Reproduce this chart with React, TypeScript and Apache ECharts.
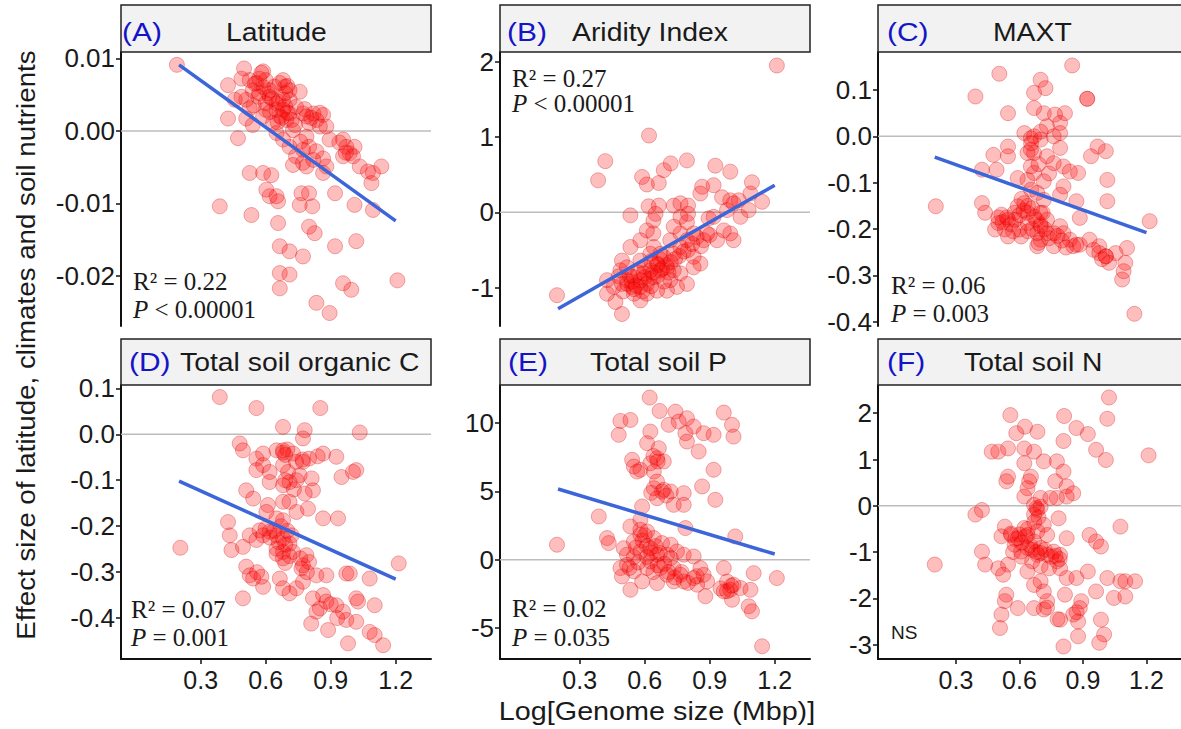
import React, { useEffect, useRef } from "react";
import * as echarts from "echarts";

// ---------------- data ----------------
const xTicks = [0.3, 0.6, 0.9, 1.2];
const xMin = -0.068;
const xMax = 1.363;

const latitudePts: number[][] = [
  [0.19, 0.0091], [0.426, 0.0063], [0.5, 0.0086], [0.488, 0.0072], [0.526, 0.007], [0.588, 0.0082], [0.54, 0.0056],
  [0.57, 0.0052], [0.51, 0.0043], [0.488, 0.0047], [0.665, 0.0066], [0.68, 0.007], [0.69, 0.0061], [0.757, 0.0054],
  [0.618, 0.0047], [0.65, 0.0038], [0.68, 0.0029], [0.71, 0.0043], [0.6, 0.0029], [0.665, 0.002], [0.695, 0.0015],
  [0.634, 0.0011], [0.588, 0.002], [0.426, 0.0017], [0.51, 0.0017], [0.54, 0.0008], [0.788, 0.002], [0.82, 0.0024],
  [0.865, 0.0022], [0.834, 0.0015], [0.8, 0.0011], [0.772, 0.0024], [0.85, 0.0006], [0.88, 0.0006], [0.74, 0.0033],
  [0.726, 0.0001], [0.472, -0.001], [0.65, -0.0003], [0.68, -0.0012], [0.71, -0.0022], [0.788, -0.0008],
  [0.772, -0.0026], [0.8, -0.0022], [0.834, -0.0028], [0.74, -0.0035], [0.772, -0.0044], [0.726, -0.0047],
  [0.788, -0.0049], [0.865, -0.0038], [0.88, -0.0049], [0.865, -0.0058], [0.895, -0.0012], [0.957, -0.0012],
  [0.972, -0.0022], [1.01, -0.0022], [0.988, -0.0031], [1.003, -0.0035], [0.957, -0.0035], [1.034, -0.0049],
  [1.072, -0.0056], [1.095, -0.0058], [1.134, -0.0049], [1.088, -0.0072], [0.526, -0.0058], [0.588, -0.0058],
  [0.626, -0.0061], [0.603, -0.0081], [0.618, -0.009], [0.657, -0.0097], [0.65, -0.009], [0.388, -0.0104],
  [0.534, -0.0116], [0.765, -0.0086], [0.8, -0.0086], [0.757, -0.0102], [0.815, -0.0104], [0.92, -0.0086],
  [1.01, -0.0102], [1.095, -0.0109], [0.657, -0.0127], [0.8, -0.0132], [0.826, -0.0141], [0.665, -0.0159],
  [0.71, -0.0166], [0.772, -0.0173], [0.92, -0.0159], [1.018, -0.0152], [0.665, -0.0196], [0.71, -0.0198],
  [0.665, -0.0217], [0.957, -0.021], [0.995, -0.0219], [1.208, -0.0206], [0.834, -0.0237], [0.895, -0.0251],
  [0.557, 0.0066], [0.618, 0.0056], [0.71, 0.0056], [0.65, 0.0029], [0.71, 0.0024], [0.68, 0.0043],
  [0.457, 0.0043], [0.526, 0.0031],
  [0.55, 0.0065], [0.57, 0.0072], [0.59, 0.006], [0.61, 0.0052], [0.63, 0.0044], [0.66, 0.004], [0.69, 0.0034],
  [0.7, 0.0025], [0.675, 0.0018], [0.655, 0.0012], [0.62, 0.0026], [0.6, 0.0038], [0.565, 0.0047], [0.545, 0.0035],
  [0.72, 0.0015], [0.735, 0.0008], [0.7, 0.0062], [0.69, 0.0052], [0.64, 0.0061], [0.6, 0.007], [0.58, 0.008],
  [0.78, 0.003], [0.81, 0.0018], [0.85, 0.0025], [0.76, -0.0015], [0.82, -0.004], [0.97, -0.003], [0.94, -0.0016],
];
const latitudeFit = [[0.2, 0.0091], [1.2, -0.0124]];
const latitudeTicks = [-0.02, -0.01, 0, 0.01];

const aridityPts: number[][] = [
  [0.195, -1.1], [1.21, 1.95], [0.385, 0.425], [0.418, 0.68], [0.62, 1.02], [0.588, 0.47], [0.61, 0.37],
  [0.665, 0.39], [0.688, 0.56], [0.72, 0.65], [0.795, 0.69], [0.534, -0.04], [0.618, 0.08], [0.665, 0.09],
  [0.734, 0.09], [0.765, 0.12], [0.8, 0.09], [0.765, -0.06], [0.795, -0.13], [0.865, 0.34], [0.918, 0.36],
  [0.926, 0.62], [0.995, 0.54], [0.957, 0.2], [0.995, 0.16], [1.034, 0.16], [1.095, 0.4], [1.088, 0.25],
  [1.142, 0.14], [1.08, 0.03], [0.98, 0.03], [1.01, 0.12], [0.895, -0.08], [0.965, -0.24], [0.995, -0.28],
  [1.01, -0.37], [0.934, -0.37], [0.888, -0.28], [0.872, -0.37], [0.84, -0.33], [0.795, -0.37], [0.64, -0.11],
  [0.61, -0.24], [0.58, -0.37], [0.534, -0.46], [0.64, -0.28], [0.734, -0.19], [0.718, -0.37], [0.765, -0.46],
  [0.826, -0.59], [0.8, -0.5], [0.734, -0.55], [0.688, -0.59], [0.657, -0.68], [0.626, -0.77], [0.595, -0.81],
  [0.55, -0.86], [0.518, -0.9], [0.488, -0.77], [0.495, -0.95], [0.457, -0.99], [0.426, -0.9], [0.426, -1.08],
  [0.465, -1.19], [0.495, -1.35], [0.542, -0.99], [0.58, -0.99], [0.61, -0.95], [0.642, -0.86], [0.672, -0.77],
  [0.703, -0.73], [0.718, -0.9], [0.703, -1.04], [0.749, -0.99], [0.795, -0.95], [0.765, -0.81], [0.826, -0.73],
  [0.857, -0.68], [0.672, -0.55], [0.626, -0.55], [0.58, -0.64], [0.518, -0.73], [0.61, -1.08], [0.657, -1.04],
  [0.58, -1.17], [0.55, -1.08], [0.734, -0.77], [0.642, -0.46], [0.826, -0.28], [0.765, -0.28], [0.65, -0.02],
  [0.8, -0.02], [0.918, -0.06], [1.042, -0.06], [0.857, 0.25], [0.495, -0.64],
  [0.52, -0.95], [0.54, -0.92], [0.56, -0.97], [0.58, -0.9], [0.6, -0.86], [0.62, -0.88], [0.64, -0.8],
  [0.66, -0.84], [0.68, -0.75], [0.7, -0.7], [0.72, -0.66], [0.74, -0.62], [0.76, -0.58], [0.66, -0.7],
  [0.63, -0.65], [0.6, -0.72], [0.57, -0.8], [0.55, -1.02], [0.59, -1.05], [0.63, -0.98], [0.69, -0.92],
  [0.71, -0.8], [0.78, -0.52], [0.82, -0.42], [0.86, -0.45], [0.9, -0.3], [0.67, -0.62], [0.53, -0.84],
  [0.5, -1.05], [0.48, -0.85],
];
const aridityFit = [[0.2, -1.28], [1.2, 0.36]];
const aridityTicks = [-1, 0, 1, 2];

const maxtPts: number[][] = [
  [0.205, -0.151], [0.392, 0.086], [0.505, 0.135], [0.546, 0.05], [0.849, 0.153], [0.669, 0.094], [0.7, 0.122],
  [0.723, 0.104], [0.92, 0.081], [0.92, 0.081], [0.669, 0.061], [0.715, 0.05], [0.768, 0.047], [0.815, 0.05],
  [0.792, 0.029], [0.73, 0.022], [0.623, 0.007], [0.654, -0.004], [0.669, 0.0], [0.7, -0.007], [0.762, 0.0],
  [0.792, 0.007], [0.546, -0.022], [0.477, -0.04], [0.546, -0.043], [0.423, -0.072], [0.492, -0.072],
  [0.654, -0.029], [0.669, -0.036], [0.73, -0.043], [0.792, -0.025], [0.762, -0.058], [0.808, -0.065],
  [0.838, -0.076], [0.654, -0.065], [0.669, -0.079], [0.715, -0.097], [0.638, -0.094], [0.592, -0.09],
  [0.877, -0.079], [0.938, -0.043], [0.969, -0.022], [1.008, -0.032], [1.015, -0.094], [1.015, -0.14],
  [0.808, -0.108], [0.792, -0.126], [0.869, -0.14], [0.885, -0.176], [0.423, -0.144], [0.438, -0.165],
  [0.515, -0.169], [0.5, -0.187], [0.546, -0.18], [0.531, -0.201], [0.577, -0.165], [0.592, -0.151],
  [0.623, -0.144], [0.638, -0.165], [0.669, -0.173], [0.7, -0.165], [0.73, -0.18], [0.715, -0.137],
  [0.684, -0.122], [0.638, -0.187], [0.684, -0.209], [0.7, -0.223], [0.684, -0.237], [0.73, -0.209],
  [0.546, -0.216], [0.608, -0.216], [0.762, -0.237], [0.792, -0.194], [0.808, -0.209], [0.838, -0.223],
  [0.854, -0.237], [0.885, -0.234], [0.931, -0.223], [0.977, -0.237], [0.977, -0.252], [1.008, -0.259],
  [1.023, -0.273], [1.054, -0.252], [1.108, -0.241], [1.1, -0.273], [1.092, -0.291], [1.085, -0.309],
  [1.143, -0.383], [1.215, -0.183], [0.485, -0.201], [0.6, -0.201], [0.7, -0.194], [0.762, -0.209],
  [0.869, -0.234], [1.008, -0.259], [0.638, -0.036],
  [0.5, -0.175], [0.52, -0.185], [0.54, -0.175], [0.56, -0.19], [0.58, -0.18], [0.6, -0.17], [0.62, -0.16],
  [0.64, -0.15], [0.66, -0.155], [0.68, -0.18], [0.7, -0.19], [0.72, -0.2], [0.66, -0.2], [0.64, -0.205],
  [0.57, -0.205], [0.74, -0.22], [0.78, -0.215], [0.8, -0.225], [0.82, -0.24], [0.95, -0.245], [0.99, -0.265],
  [0.69, -0.23], [0.71, -0.165], [0.61, -0.135], [0.655, -0.115], [0.69, -0.06], [0.74, -0.08], [0.7, 0.01],
  [0.655, -0.015],
];
const maxtFit = [[0.2, -0.045], [1.2, -0.208]];
const maxtTicks = [-0.4, -0.3, -0.2, -0.1, 0, 0.1];

const soilCPts: number[][] = [
  [0.206, -0.247], [0.388, 0.081], [0.557, 0.057], [0.852, 0.057], [0.68, 0.016], [0.78, 0.009], [0.772, -0.009],
  [1.034, 0.004], [0.48, -0.02], [0.495, -0.035], [0.557, -0.053], [0.588, -0.042], [0.65, -0.035], [0.68, -0.035],
  [0.726, -0.042], [0.8, -0.053], [0.772, -0.06], [0.865, -0.042], [0.926, -0.049], [0.557, -0.078],
  [0.588, -0.067], [0.618, -0.082], [0.68, -0.067], [0.703, -0.082], [0.757, -0.089], [0.812, -0.096],
  [0.95, -0.093], [1.003, -0.082], [1.018, -0.078], [0.618, -0.104], [0.68, -0.111], [0.71, -0.104],
  [0.742, -0.1], [0.818, -0.122], [0.78, -0.129], [0.51, -0.122], [0.542, -0.14], [0.61, -0.154], [0.68, -0.147],
  [0.71, -0.147], [0.742, -0.169], [0.795, -0.162], [0.865, -0.183], [0.934, -0.183], [0.603, -0.169],
  [0.65, -0.183], [0.68, -0.187], [0.426, -0.191], [0.434, -0.22], [0.442, -0.252], [0.495, -0.245],
  [0.526, -0.22], [0.572, -0.209], [0.557, -0.23], [0.588, -0.22], [0.618, -0.212], [0.65, -0.22], [0.68, -0.227],
  [0.71, -0.238], [0.65, -0.249], [0.68, -0.256], [0.68, -0.27], [0.726, -0.256], [0.788, -0.263], [0.8, -0.278],
  [0.765, -0.292], [0.772, -0.285], [0.834, -0.307], [0.88, -0.307], [0.972, -0.303], [0.988, -0.303],
  [1.08, -0.314], [1.214, -0.281], [0.51, -0.288], [0.526, -0.307], [0.542, -0.314], [0.588, -0.332],
  [0.495, -0.357], [0.665, -0.314], [0.68, -0.335], [0.71, -0.346], [0.742, -0.335], [0.818, -0.357],
  [0.865, -0.35], [0.85, -0.379], [0.88, -0.364], [0.926, -0.372], [1.018, -0.357], [1.026, -0.364],
  [1.103, -0.372], [0.957, -0.386], [0.972, -0.404], [1.018, -0.408], [1.08, -0.43], [1.103, -0.437],
  [0.81, -0.412], [0.888, -0.426], [0.98, -0.455], [1.142, -0.459], [0.834, -0.386], [0.772, -0.321],
  [0.6, -0.205], [0.62, -0.225], [0.64, -0.21], [0.66, -0.235], [0.67, -0.2], [0.69, -0.24], [0.7, -0.21],
  [0.72, -0.22], [0.65, -0.26], [0.69, -0.28], [0.71, -0.265], [0.68, -0.04], [0.69, -0.045], [0.7, -0.033],
  [0.74, -0.06], [0.77, -0.055], [0.84, -0.048], [0.76, -0.27], [0.79, -0.3], [0.58, -0.31], [0.56, -0.3],
  [0.9, -0.37], [0.93, -0.4], [0.73, -0.12], [0.69, -0.1],
];
const soilCFit = [[0.2, -0.102], [1.2, -0.315]];
const soilCTicks = [-0.4, -0.3, -0.2, -0.1, 0, 0.1];

const soilPPts: number[][] = [
  [0.195, 1.1], [0.388, 3.17], [0.623, 11.88], [0.488, 10.17], [0.534, 10.24], [0.48, 9.15], [0.669, 10.9],
  [0.742, 10.85], [0.711, 9.88], [0.757, 10.12], [0.795, 10.37], [0.826, 9.76], [0.788, 9.27], [0.872, 9.27],
  [0.918, 9.15], [0.965, 10.78], [1.003, 9.88], [1.01, 9.02], [0.795, 8.66], [0.849, 7.93], [0.626, 9.39],
  [0.611, 8.54], [0.665, 8.17], [0.542, 7.32], [0.55, 6.83], [0.58, 6.59], [0.565, 6.46], [0.626, 7.07],
  [0.657, 7.44], [0.688, 7.2], [0.642, 6.46], [0.657, 5.73], [0.642, 5.24], [0.688, 5.12], [0.72, 5.0],
  [0.657, 4.51], [0.734, 4.02], [0.78, 4.88], [0.78, 4.02], [0.865, 5.37], [0.918, 6.59], [0.926, 4.39],
  [0.588, 3.9], [0.58, 2.93], [0.534, 2.44], [0.788, 2.32], [1.018, 1.71], [0.426, 1.59], [0.434, 1.22],
  [0.503, 0.85], [0.55, 1.34], [0.58, 1.83], [0.611, 2.07], [0.642, 1.59], [0.68, 1.22], [0.72, 1.1],
  [0.518, 0.37], [0.58, 0.61], [0.626, 0.85], [0.657, 0.37], [0.703, 0.37], [0.749, 0.61], [0.78, 0.37],
  [0.826, 0.24], [0.488, -0.61], [0.518, -0.37], [0.55, -0.85], [0.495, -1.22], [0.588, -1.59], [0.534, -2.2],
  [0.657, -1.71], [0.672, -0.61], [0.703, -1.1], [0.734, -0.61], [0.765, -1.1], [0.78, -1.59], [0.826, -1.34],
  [0.872, -1.1], [0.888, -1.59], [0.842, -1.83], [0.88, -2.68], [0.965, -0.61], [0.98, -1.59], [0.995, -2.2],
  [1.01, -1.83], [1.042, -2.07], [0.965, -2.32], [1.003, -2.93], [1.103, -0.98], [1.088, -2.2], [1.08, -3.41],
  [1.095, -3.78], [1.21, -1.34], [1.142, -6.34], [0.72, 0.12], [0.626, -0.12], [0.734, -1.59], [0.857, -0.61],
  [0.611, -0.61],
  [0.56, 0.9], [0.59, 1.4], [0.61, 1.0], [0.63, 0.5], [0.65, 1.0], [0.67, 0.5], [0.69, -0.3], [0.66, -0.4],
  [0.64, -0.9], [0.61, 0.2], [0.57, -0.2], [0.53, -0.6], [0.55, 0.2], [0.71, -0.9], [0.74, -1.3], [0.77, -0.9],
  [0.8, -1.7], [0.84, -1.2], [0.95, -2.1], [0.98, -2.3], [1.0, -1.9], [0.66, 7.2], [0.64, 7.6], [0.68, 5.0],
  [0.7, 4.7], [0.63, 4.9], [0.6, 1.8], [0.58, 2.2],
];
const soilPFit = [[0.2, 5.18], [1.2, 0.42]];
const soilPTicks = [-5, 0, 5, 10];

const soilNPts: number[][] = [
  [0.2, -1.27], [0.392, -0.19], [0.423, -0.09], [1.023, 2.34], [1.015, 1.88], [1.21, 1.09], [0.557, 1.96],
  [0.626, 1.71], [0.585, 1.57], [0.685, 1.6], [0.811, 1.94], [0.869, 1.68], [0.923, 1.55], [0.808, 1.4],
  [0.962, 1.21], [1.008, 0.99], [0.469, 1.17], [0.5, 1.17], [0.546, 1.24], [0.623, 1.24], [0.669, 1.17],
  [0.623, 0.92], [0.715, 0.96], [0.777, 0.96], [0.808, 0.74], [0.546, 0.63], [0.538, 0.53], [0.654, 0.63],
  [0.646, 0.53], [0.769, 0.53], [0.638, 0.38], [0.823, 0.42], [0.854, 0.27], [0.623, 0.2], [0.7, 0.17],
  [0.746, 0.17], [0.777, 0.17], [0.823, 0.2], [0.669, 0.02], [0.685, -0.09], [0.669, -0.19], [0.785, -0.27],
  [1.077, -0.45], [0.531, -0.45], [0.515, -0.66], [0.561, -0.63], [0.592, -0.7], [0.577, -0.84], [0.623, -0.48],
  [0.638, -0.63], [0.685, -0.55], [0.715, -0.41], [0.731, -0.63], [0.669, -0.77], [0.7, -0.91], [0.685, -1.06],
  [0.731, -1.06], [0.762, -0.99], [0.792, -1.06], [0.777, -1.2], [0.823, -0.7], [0.931, -0.63], [0.962, -0.77],
  [0.985, -0.88], [0.423, -0.99], [0.438, -1.27], [0.5, -1.35], [0.546, -1.27], [0.523, -1.49], [0.638, -1.42],
  [0.669, -1.71], [0.7, -1.63], [0.715, -1.85], [0.792, -1.35], [0.823, -1.56], [0.869, -1.56], [0.923, -1.42],
  [0.962, -1.85], [1.015, -1.56], [1.077, -1.63], [1.1, -1.63], [1.146, -1.63], [1.046, -1.99], [1.1, -1.96],
  [0.538, -1.92], [0.531, -2.06], [0.592, -2.21], [0.515, -2.35], [0.508, -2.64], [0.669, -2.21], [0.715, -2.24],
  [0.731, -2.06], [0.815, -1.92], [0.792, -2.46], [0.854, -2.35], [0.885, -2.21], [0.892, -2.06], [0.877, -2.5],
  [0.877, -2.82], [0.808, -3.04], [0.985, -2.46], [1.0, -2.78], [0.977, -2.96], [0.638, -0.91], [0.608, -0.99],
  [0.56, -0.6], [0.58, -0.72], [0.6, -0.62], [0.61, -0.8], [0.63, -0.66], [0.65, -0.85], [0.66, -0.95],
  [0.68, -1.0], [0.7, -1.02], [0.72, -0.95], [0.75, -1.1], [0.77, -1.08], [0.79, -1.15], [0.67, -0.35],
  [0.69, -0.25], [0.68, -0.05], [0.7, -0.02], [0.66, -1.2], [0.7, -1.3], [0.64, -0.5], [0.57, -1.0],
  [0.61, -1.1], [0.74, -1.35], [0.78, -2.45], [0.73, -2.2], [0.87, -2.3],
];
const soilNTicks = [-3, -2, -1, 0, 1, 2];

// ---------------- layout / style ----------------
const SANS = '"Liberation Sans", Arial, sans-serif';
const SERIF = '"Liberation Serif", "Times New Roman", serif';
const PLOT_W = 310;
const PLOT_H = 274;

const panels = [
  { letter: "(A)", title: "Latitude", pts: latitudePts, fit: latitudeFit, ticks: latitudeTicks, dec: 2,
    yMin: -0.02689, yMax: 0.01087, left: 121, top: 52, stripTop: 5, labelY: 32, letterX: 122, titleX: 226,
    r2: "R² = 0.22", p: [" < 0.00001"], statX: 133, statY: [281, 309] },
  { letter: "(B)", title: "Aridity Index", pts: aridityPts, fit: aridityFit, ticks: aridityTicks, dec: 0,
    yMin: -1.509, yMax: 2.129, left: 500, top: 52, stripTop: 5, labelY: 32, letterX: 507, titleX: 572,
    r2: "R² = 0.27", p: [" < 0.00001"], statX: 512, statY: [78, 103] },
  { letter: "(C)", title: "MAXT", pts: maxtPts, fit: maxtFit, ticks: maxtTicks, dec: 1,
    yMin: -0.4093, yMax: 0.182, left: 878, top: 52, stripTop: 5, labelY: 32, letterX: 887, titleX: 993,
    r2: "R² = 0.06", p: [" = 0.003"], statX: 891, statY: [285, 313] },
  { letter: "(D)", title: "Total soil organic C", pts: soilCPts, fit: soilCFit, ticks: soilCTicks, dec: 1,
    yMin: -0.489, yMax: 0.1072, left: 121, top: 385, stripTop: 339, labelY: 362, letterX: 129, titleX: 180,
    r2: "R² = 0.07", p: [" = 0.001"], statX: 131, statY: [609, 637] },
  { letter: "(E)", title: "Total soil P", pts: soilPPts, fit: soilPFit, ticks: soilPTicks, dec: 0,
    yMin: -7.27, yMax: 12.8, left: 500, top: 385, stripTop: 339, labelY: 362, letterX: 508, titleX: 590,
    r2: "R² = 0.02", p: [" = 0.035"], statX: 512, statY: [608, 637] },
  { letter: "(F)", title: "Total soil N", pts: soilNPts, fit: null as number[][] | null, ticks: soilNTicks, dec: 0,
    yMin: -3.31, yMax: 2.61, left: 878, top: 385, stripTop: 339, labelY: 362, letterX: 887, titleX: 964,
    r2: null as string | null, p: null as string[] | null, statX: 891, statY: [632, 632] },
];

function buildOption() {
  const grid: any[] = [];
  const xAxis: any[] = [];
  const yAxis: any[] = [];
  const series: any[] = [];
  const graphic: any[] = [];

  panels.forEach((p, i) => {
    const bottomRow = p.top > 200;
    grid.push({ left: p.left, top: p.top, width: PLOT_W, height: PLOT_H });
    xAxis.push({
      type: "value", gridIndex: i, min: xMin, max: xMax,
      axisLine: { show: bottomRow, onZero: false, lineStyle: { color: "#111", width: 2 } },
      axisTick: { show: bottomRow, customValues: xTicks, length: 5, lineStyle: { color: "#111", width: 1.5 } },
      axisLabel: { show: bottomRow, customValues: xTicks, formatter: (v: number) => v.toFixed(1),
        fontSize: 25, fontFamily: SANS, color: "#1a1a1a", margin: 8 },
      splitLine: { show: false },
    });
    yAxis.push({
      type: "value", gridIndex: i, min: p.yMin, max: p.yMax,
      axisLine: { show: true, onZero: false, lineStyle: { color: "#111", width: 2 } },
      axisTick: { show: true, customValues: p.ticks, length: 5, lineStyle: { color: "#111", width: 1.5 } },
      axisLabel: { customValues: p.ticks, formatter: (v: number) => v.toFixed(p.dec),
        fontSize: 26, fontFamily: SANS, color: "#1a1a1a", margin: 6 },
      splitLine: { show: false },
    });
    series.push({
      type: "line", xAxisIndex: i, yAxisIndex: i, data: [[xMin, 0], [xMax, 0]], symbol: "none",
      silent: true, z: 1, lineStyle: { color: "#bdbdbd", width: 1.5 },
    });
    series.push({
      type: "scatter", xAxisIndex: i, yAxisIndex: i, data: p.pts, symbolSize: 15, z: 2,
      itemStyle: { color: "rgba(255,0,0,0.32)", borderColor: "rgba(205,0,0,0.38)", borderWidth: 1 },
    });
    if (p.fit) {
      series.push({
        type: "line", xAxisIndex: i, yAxisIndex: i, data: p.fit, symbol: "none", z: 3, silent: true,
        lineStyle: { color: "#3b65d9", width: 3.5 },
      });
    }
    graphic.push({
      type: "rect", shape: { x: p.left, y: p.stripTop, width: PLOT_W, height: p.top - p.stripTop },
      style: { fill: "#f2f2f2", stroke: "#222", lineWidth: 1.5 }, z: 10,
    });
    graphic.push({
      type: "text", x: p.letterX, y: p.labelY, scaleX: 1.15, z: 11,
      style: { text: p.letter, fontSize: 26, fontFamily: SANS, fill: "#1414c8", verticalAlign: "middle", align: "left" },
    });
    graphic.push({
      type: "text", x: p.titleX, y: p.labelY, scaleX: 1.09, z: 11,
      style: { text: p.title, fontSize: 26, fontFamily: SANS, fill: "#1a1a1a", verticalAlign: "middle", align: "left" },
    });
    if (p.r2 && p.p) {
      graphic.push({
        type: "text", x: p.statX, y: p.statY[0], z: 11,
        style: { text: p.r2, fontSize: 25, fontFamily: SERIF, fill: "#1a1a1a", verticalAlign: "middle", align: "left" },
      });
      graphic.push({
        type: "text", x: p.statX, y: p.statY[1], z: 11,
        style: {
          text: "{i|P}{n|" + p.p[0] + "}", fontSize: 25, fontFamily: SERIF, fill: "#1a1a1a",
          verticalAlign: "middle", align: "left",
          rich: {
            i: { fontSize: 25, fontFamily: SERIF, fontStyle: "italic", fill: "#1a1a1a" },
            n: { fontSize: 25, fontFamily: SERIF, fill: "#1a1a1a" },
          },
        },
      });
    } else {
      graphic.push({
        type: "text", x: p.statX, y: p.statY[0], z: 11,
        style: { text: "NS", fontSize: 19, fontFamily: SANS, fill: "#1a1a1a", verticalAlign: "middle", align: "left" },
      });
    }
  });

  graphic.push({
    type: "text", x: 26, y: 345, rotation: Math.PI / 2, scaleX: 1.066, z: 11,
    style: { text: "Effect size of latitude, climates and soil nutrients", fontSize: 26, fontFamily: SANS,
      fill: "#1a1a1a", align: "center", verticalAlign: "middle" },
  });
  graphic.push({
    type: "text", x: 657, y: 712, scaleX: 1.15, z: 11,
    style: { text: "Log[Genome size (Mbp)]", fontSize: 25, fontFamily: SANS, fill: "#1a1a1a",
      align: "center", verticalAlign: "middle" },
  });

  return { animation: false, backgroundColor: "#ffffff", grid, xAxis, yAxis, series, graphic };
}

export default function App() {
  const ref = useRef<HTMLDivElement>(null);
  useEffect(() => {
    if (!ref.current) return;
    const chart = echarts.init(ref.current, null, { renderer: "svg" });
    chart.setOption(buildOption());
    return () => chart.dispose();
  }, []);
  return (
    <div
      ref={ref}
      style={{ position: "fixed", left: 0, top: 0, width: 1181, height: 729, background: "#fff" }}
    />
  );
}
